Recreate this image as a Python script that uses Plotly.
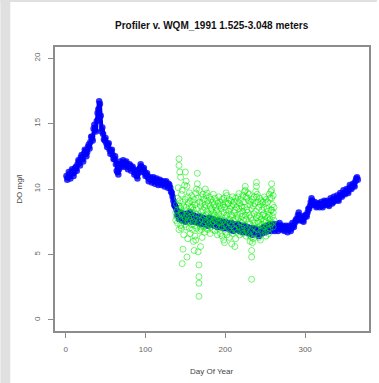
import plotly.graph_objects as go

# ---------------- data ----------------
profiler_day_a = list(range(1, 366, 2))
profiler_do_a = [
    11.0, 10.9, 11.1, 11.2, 11.4, 11.3, 11.7, 11.9, 12.1, 12.4,
    12.3, 12.7, 12.9, 12.8, 13.4, 13.6, 14.0, 14.6, 14.5, 15.2,
    16.1, 16.5, 14.4, 14.2, 13.7, 13.5, 13.4, 13.0, 12.9, 12.6,
    12.3, 11.9, 11.3, 11.5, 11.9, 12.0, 11.9, 12.0, 11.8, 11.7,
    11.8, 11.6, 11.5, 11.3, 11.0, 11.2, 11.6, 11.7, 11.5, 11.3,
    11.1, 10.9, 10.8, 10.7, 10.8, 10.6, 10.7, 10.6, 10.5, 10.6,
    10.5, 10.4, 10.5, 10.3, 10.4, 10.1, 9.7, 9.1, 8.7, 8.4,
    8.1, 7.9, 8.0, 7.8, 7.9, 7.7, 7.9, 8.0, 7.8, 7.7,
    7.9, 7.7, 7.6, 7.8, 7.6, 7.5, 7.7, 7.5, 7.4, 7.6,
    7.5, 7.6, 7.4, 7.5, 7.3, 7.4, 7.5, 7.3, 7.2, 7.4,
    7.3, 7.2, 7.3, 7.1, 7.2, 7.0, 7.1, 7.2, 7.0, 6.9,
    7.1, 7.0, 6.9, 7.0, 6.8, 6.9, 6.7, 6.8, 6.9, 6.7,
    6.8, 6.6, 6.8, 6.9, 7.0, 6.9, 7.0, 7.1, 7.0, 7.1,
    7.0, 7.2, 7.0, 7.1, 7.2, 7.0, 6.9, 7.1, 7.0, 6.9,
    7.1, 7.0, 7.2, 7.4, 7.7, 8.0, 7.9, 7.7, 7.6, 7.8,
    8.0, 8.2, 8.5, 9.0, 9.1, 8.9, 8.8, 8.7, 8.9, 8.8,
    8.7, 8.9, 9.0, 8.9, 8.8, 9.0, 9.1, 9.0, 9.2, 9.3,
    9.2, 9.4, 9.5, 9.6, 9.7, 9.8, 9.8, 10.0, 10.1, 10.2,
    10.3, 10.6, 10.9,
]

profiler_day_b = list(range(2, 367, 2))
profiler_do_b = [
    10.7, 11.3, 10.8, 11.5, 11.0, 11.6, 11.4, 12.2, 11.8, 12.6,
    12.1, 13.0, 12.5, 13.2, 13.1, 14.0, 13.7, 14.9, 14.4, 15.8,
    16.7, 15.6, 14.7, 13.8, 13.9, 13.2, 13.5, 12.7, 13.0, 12.3,
    12.5, 11.4, 11.1, 12.1, 11.7, 12.2, 11.7, 12.1, 11.5, 11.9,
    11.4, 11.7, 11.1, 11.4, 10.8, 11.5, 11.9, 11.3, 11.6, 11.0,
    11.2, 10.6, 10.9, 10.5, 10.9, 10.4, 10.8, 10.3, 10.7, 10.3,
    10.6, 10.2, 10.6, 10.1, 10.3, 9.8, 9.4, 8.8, 8.6, 8.0,
    7.7, 8.2, 7.6, 8.1, 7.5, 8.1, 7.7, 8.2, 7.5, 8.0,
    7.5, 7.9, 7.4, 7.9, 7.3, 7.8, 7.3, 7.7, 7.2, 7.8,
    7.3, 7.7, 7.2, 7.6, 7.1, 7.6, 7.1, 7.5, 7.0, 7.5,
    7.0, 7.4, 6.9, 7.4, 6.8, 7.3, 6.9, 7.3, 6.8, 7.2,
    6.7, 7.2, 6.7, 7.1, 6.6, 7.0, 6.5, 7.0, 6.6, 6.9,
    6.4, 6.9, 6.6, 7.1, 6.7, 7.2, 6.8, 7.3, 6.8, 7.3,
    6.8, 7.3, 6.8, 7.4, 6.9, 7.2, 6.8, 7.2, 6.7, 7.2,
    6.8, 7.4, 7.1, 7.6, 7.6, 8.2, 7.6, 7.9, 7.5, 8.0,
    7.9, 8.5, 8.7, 9.3, 8.8, 9.0, 8.6, 8.9, 8.6, 9.0,
    8.6, 9.1, 8.8, 9.1, 8.7, 9.3, 8.9, 9.4, 9.1, 9.5,
    9.1, 9.7, 9.4, 9.9, 9.6, 10.0, 9.7, 10.3, 10.0, 10.4,
    10.2, 10.8, 10.7,
]

wqm_days = list(range(138, 262))
wqm_vals = [
    [8.2, 7.6], [8.8, 7.9], [9.3, 8.4, 7.4], [10.1, 8.0],
    [12.3, 11.8, 8.7, 6.9], [11.3, 9.1, 7.7], [10.9, 8.5, 7.2], [9.6, 8.2, 7.0],
    [9.9, 8.1, 4.3], [9.0, 7.6, 5.4], [8.7, 7.9, 6.5], [10.3, 8.4, 7.3],
    [11.3, 9.2, 7.8], [10.6, 8.6, 7.1], [10.2, 8.0, 4.8], [9.4, 7.5, 6.2],
    [8.9, 7.8], [9.7, 8.3, 7.0], [9.1, 7.6, 6.6], [8.6, 7.9],
    [9.5, 8.2, 7.3], [9.0, 8.6, 6.9], [8.4, 7.5, 6.0], [9.2, 7.8, 5.3],
    [8.8, 7.2, 6.4], [9.7, 8.1, 6.1], [10.0, 8.5, 7.0], [11.2, 10.4, 7.7],
    [9.3, 7.4, 5.2], [9.9, 8.0, 4.2, 3.3, 2.8, 1.8], [9.0, 7.6, 6.8], [8.7, 7.1, 5.6],
    [9.4, 8.2, 6.9], [8.9, 7.7, 6.3], [9.6, 8.4, 7.2], [9.2, 7.9],
    [8.6, 7.4, 6.7], [10.0, 8.8, 7.6], [9.5, 8.0, 7.0], [9.7, 8.3],
    [9.1, 7.5, 6.9], [8.9, 8.1, 7.3], [9.4, 7.8], [8.7, 7.6, 6.6],
    [9.2, 8.4, 7.1], [8.5, 7.4], [9.0, 7.9, 6.9], [9.6, 8.2, 7.5],
    [8.8, 7.7], [9.3, 8.0, 6.8], [8.6, 7.6], [9.1, 8.3, 7.2],
    [8.4, 7.5, 6.5], [8.9, 7.8], [9.4, 8.1, 7.0], [8.7, 7.4],
    [9.0, 7.7, 6.6], [8.5, 7.9, 7.1], [9.2, 7.1, 6.4], [8.8, 7.6],
    [9.3, 8.2, 6.1], [8.6, 7.3, 5.9], [9.0, 7.8, 6.7], [9.7, 8.4, 7.2],
    [9.5, 8.0, 6.5], [8.9, 7.5], [8.9, 8.3, 7.0], [9.2, 7.7, 6.3],
    [8.5, 7.4], [9.1, 8.0, 6.8], [8.7, 7.2, 5.8], [9.4, 7.9, 6.6],
    [8.8, 7.6], [9.0, 8.2, 7.0], [8.4, 6.9, 5.6], [9.3, 7.7, 6.2],
    [8.6, 7.3], [9.1, 8.0, 6.7], [9.4, 7.8], [9.65, 8.5, 7.1],
    [8.9, 7.5, 6.5], [9.2, 8.1], [8.7, 7.4, 6.8], [8.6, 7.9, 7.0],
    [9.5, 8.3, 6.6], [9.0, 7.6], [9.8, 8.6, 7.2], [10.2, 9.9, 8.0, 6.9],
    [9.4, 7.7, 6.4], [9.3, 8.4, 7.0], [9.7, 8.2, 6.7], [9.1, 7.5],
    [9.6, 8.0, 6.5], [8.8, 7.3, 6.0], [9.0, 7.8, 6.8], [8.5, 6.3, 5.3, 4.8, 3.1],
    [9.2, 7.6, 5.9], [8.7, 7.1, 6.2], [9.4, 8.1, 6.6], [8.9, 7.4],
    [9.8, 8.3, 7.0], [10.5, 10.2, 9.4, 7.8], [9.6, 8.0, 6.9], [9.0, 7.5, 6.5],
    [8.6, 7.4, 6.3], [9.3, 7.9], [8.8, 7.2, 6.1], [9.1, 7.7, 6.8],
    [8.4, 7.3], [9.0, 8.0, 6.9], [8.6, 8.1, 7.1], [9.4, 7.6],
    [8.9, 7.9, 6.7], [9.2, 7.5, 6.4], [8.5, 7.2], [9.0, 7.8, 6.9],
    [8.3, 7.4, 6.6], [9.6, 8.0], [9.3, 7.7, 7.0], [9.8, 8.4, 7.3],
    [10.4, 9.9, 9.3, 8.4], [8.8, 7.9, 7.4], [9.5, 8.2, 7.1], [8.6, 7.6],
]

x_ticks = [0, 100, 200, 300]
y_ticks = [0, 5, 10, 15, 20]

title_text = "Profiler v. WQM_1991 1.525-3.048 meters"
x_title = "Day Of Year"
y_title = "DO mg/l"

# build point tables (profiler sorted by day)
prof_pairs = sorted(zip(profiler_day_a + profiler_day_b, profiler_do_a + profiler_do_b))
prof_x = [p[0] for p in prof_pairs]
prof_y = [p[1] for p in prof_pairs]
wqm_x, wqm_y = [], []
for d, vals in zip(wqm_days, wqm_vals):
    for v in vals:
        wqm_x.append(d)
        wqm_y.append(v)

# ---------------- figure ----------------
W, H = 379, 383
L, R, T, B = 55, 8, 47, 52
pw, ph = W - L - R, H - T - B

def px_x(p):
    return (p - L) / pw

def px_y(p):
    return (H - B - p) / ph

fig = go.Figure()
fig.add_trace(go.Scatter(
    x=prof_x, y=prof_y, mode="lines",
    line=dict(color="rgb(0,0,255)", width=4),
    hoverinfo="skip", showlegend=False))
fig.add_trace(go.Scatter(
    x=prof_x, y=prof_y, mode="markers",
    marker=dict(color="rgba(0,0,255,0.8)", size=6.5, line=dict(width=0)),
    hoverinfo="skip", showlegend=False))
fig.add_trace(go.Scatter(
    x=wqm_x, y=wqm_y, mode="markers",
    marker=dict(symbol="circle-open", color="rgba(0,235,0,0.55)", size=6,
                line=dict(width=1)),
    hoverinfo="skip", showlegend=False))

axis_common = dict(
    showgrid=False, zeroline=False, showline=True, mirror=True,
    linecolor="#8c8c8c", linewidth=1.5, ticks="outside", ticklen=5,
    tickcolor="#8c8c8c", tickwidth=1,
    tickfont=dict(family="Liberation Sans", size=8, color="#666666"),
    ticklabelstandoff=5,
)
fig.update_xaxes(range=[-13.3, 380], tickvals=x_ticks, **axis_common)
fig.update_yaxes(range=[-0.85, 20.85], tickvals=y_ticks, tickangle=-90, **axis_common)

fig.update_layout(
    width=W, height=H, margin=dict(l=L, r=R, t=T, b=B, pad=0),
    paper_bgcolor="white", plot_bgcolor="white",
    shapes=[
        dict(type="rect", xref="paper", yref="paper", layer="below",
             x0=px_x(0), x1=px_x(10), y0=px_y(H), y1=px_y(0),
             fillcolor="#e0e0e0", line=dict(width=0)),
        dict(type="rect", xref="paper", yref="paper", layer="below",
             x0=px_x(0), x1=px_x(W), y0=px_y(2), y1=px_y(0),
             fillcolor="#e0e0e0", line=dict(width=0)),
    ],
    annotations=[
        dict(text="<b>" + title_text + "</b>", xref="paper", yref="paper",
             x=px_x(213), y=px_y(25.5), xanchor="center", yanchor="middle",
             showarrow=False, font=dict(family="Liberation Sans", size=10, color="#111111")),
        dict(text=x_title, xref="paper", yref="paper",
             x=px_x(212), y=px_y(371), xanchor="center", yanchor="middle",
             showarrow=False, font=dict(family="Liberation Sans", size=8, color="#444444")),
        dict(text=y_title, xref="paper", yref="paper", textangle=-90,
             x=px_x(18.5), y=px_y(189), xanchor="center", yanchor="middle",
             showarrow=False, font=dict(family="Liberation Sans", size=8, color="#444444")),
    ],
)

fig.write_html("out.html")
